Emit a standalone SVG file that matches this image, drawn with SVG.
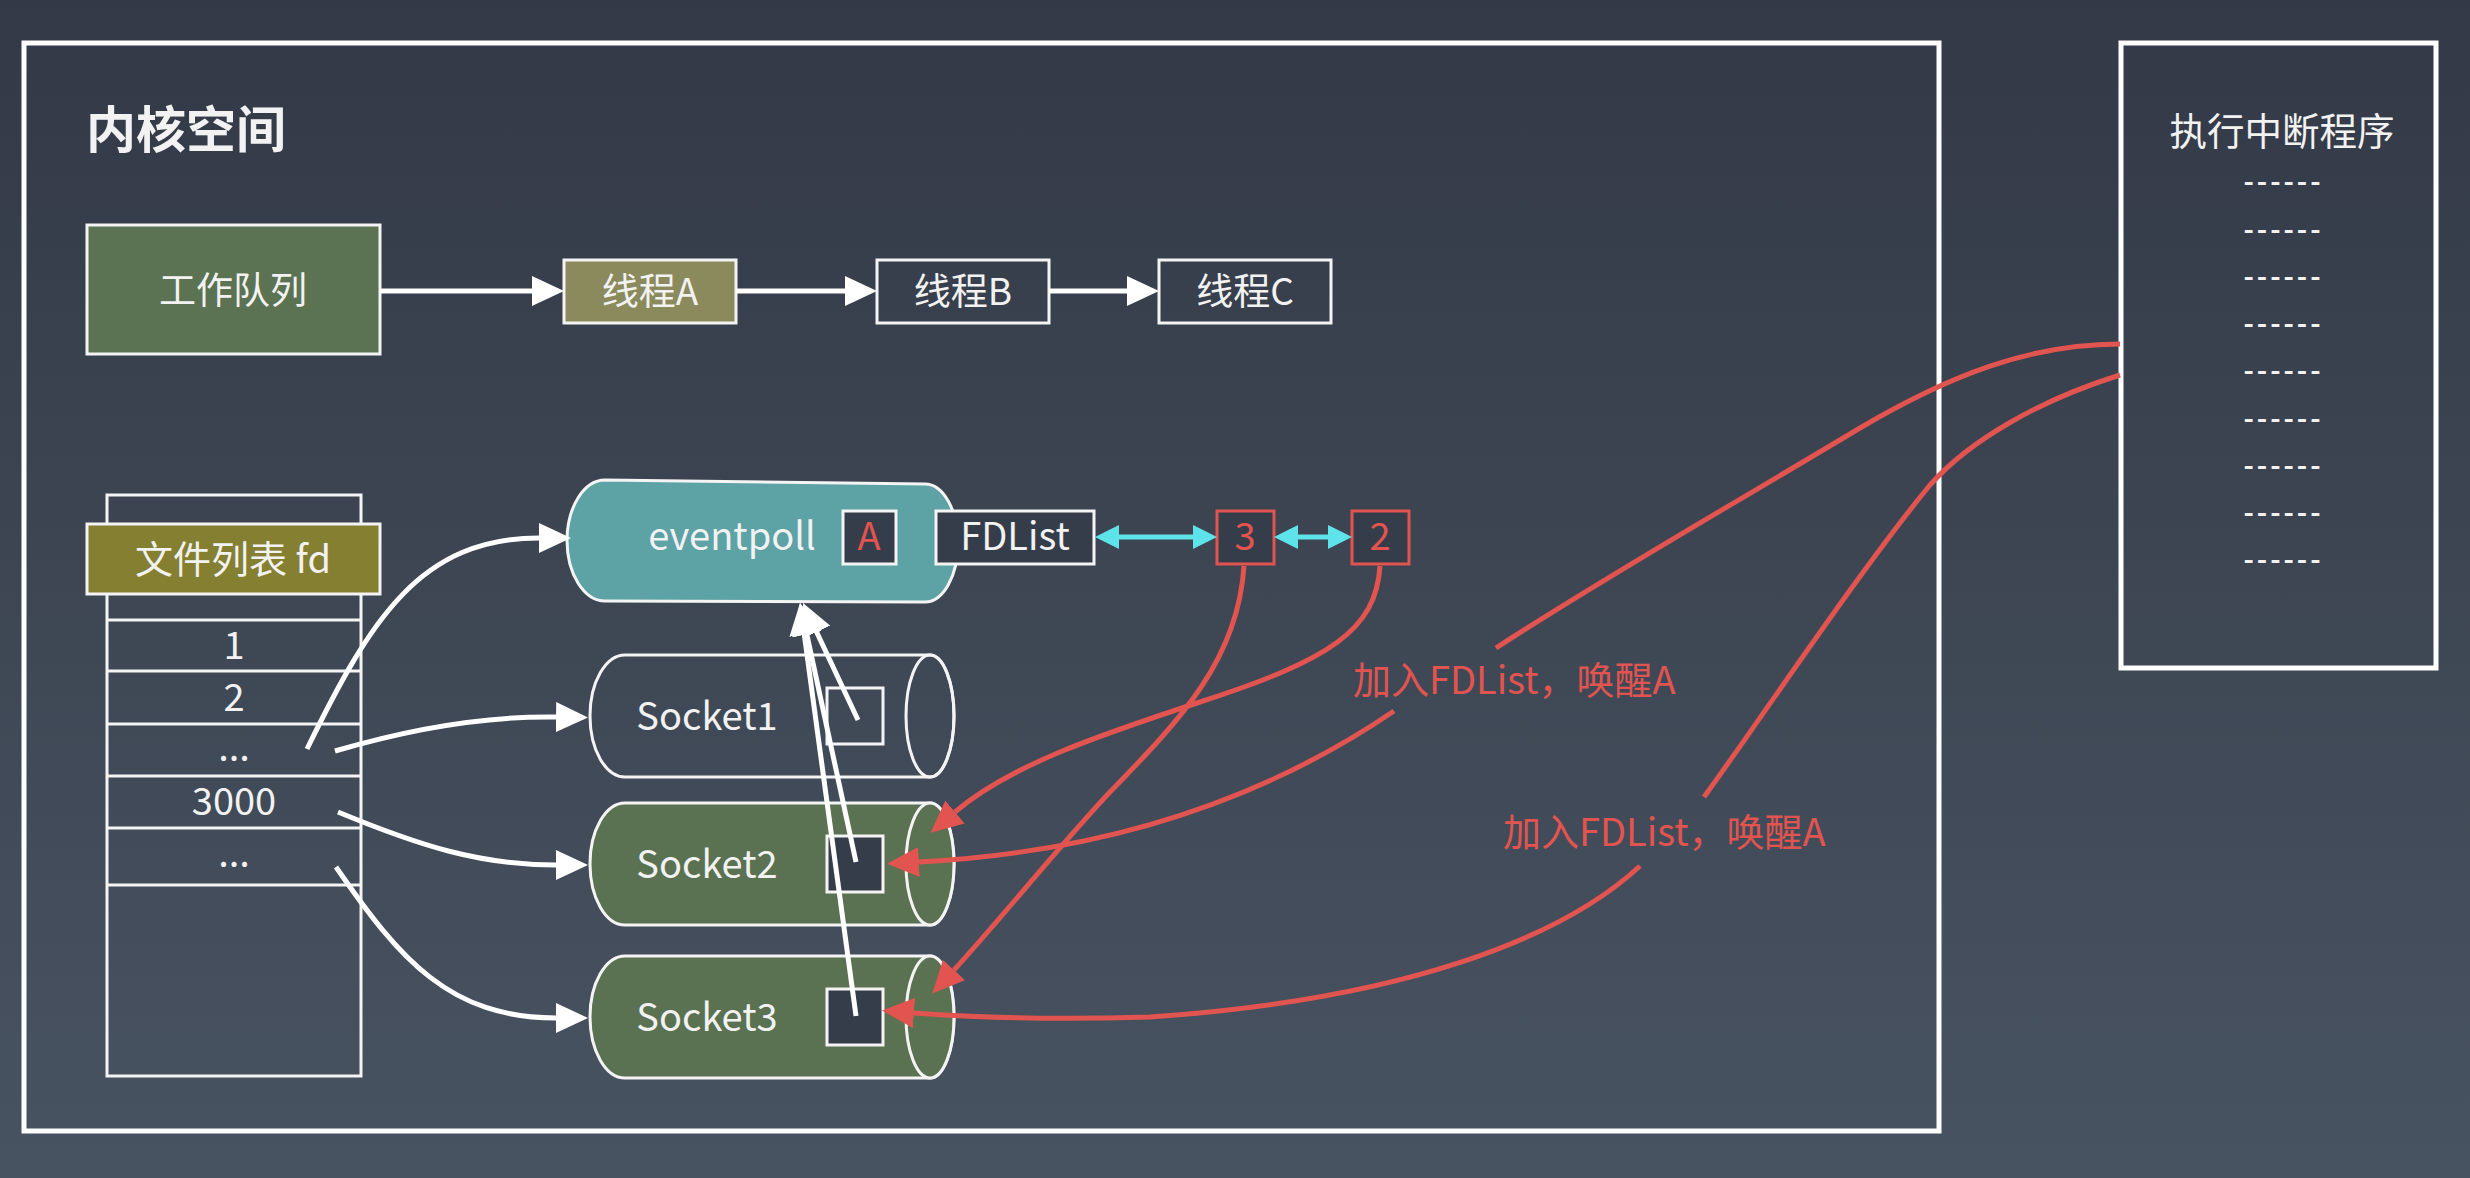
<svg xmlns="http://www.w3.org/2000/svg" width="2470" height="1178" viewBox="0 0 2470 1178">
<defs>
<linearGradient id="bg" x1="0" y1="0" x2="0" y2="1178" gradientUnits="userSpaceOnUse">
<stop offset="0" stop-color="#333946"/>
<stop offset="1" stop-color="#485361"/>
</linearGradient>
<marker id="aw" markerUnits="userSpaceOnUse" markerWidth="32" markerHeight="30" viewBox="0 0 32 30" refX="0" refY="15" orient="auto"><path d="M0,0 L32,15 L0,30 Z" fill="#ffffff"/></marker>
<marker id="ar" markerUnits="userSpaceOnUse" markerWidth="32" markerHeight="30" viewBox="0 0 32 30" refX="0" refY="15" orient="auto"><path d="M0,0 L32,15 L0,30 Z" fill="#e2544f"/></marker>
<marker id="ac" markerUnits="userSpaceOnUse" markerWidth="24" markerHeight="24" viewBox="0 0 24 24" refX="0" refY="12" orient="auto-start-reverse"><path d="M0,0 L24,12 L0,24 Z" fill="#5fe3ea"/></marker>
<style>
text{font-family:"Noto Sans CJK SC","Noto Sans",sans-serif;fill:#f2f2f2;}
.lbl{font-size:37px;text-anchor:middle;}
.lat{font-size:38px;text-anchor:middle;}
.red{fill:#e2544f;}
.box{stroke:#f4f4f4;stroke-width:3;}
.wl{fill:none;stroke:#ffffff;stroke-width:5;}
.rl{fill:none;stroke:#e2544f;stroke-width:5;}
.cl{fill:none;stroke:#5fe3ea;stroke-width:5;}
.dash{font-size:28px;text-anchor:middle;font-weight:bold;}
</style>
</defs>
<rect x="0" y="0" width="2470" height="1178" fill="url(#bg)"/>

<g id="kernel-frame">
<rect x="24" y="43" width="1915" height="1088" fill="none" stroke="#ffffff" stroke-width="5"/>
<text x="86" y="148" style="font-size:50px;font-weight:bold;">内核空间</text>
</g>

<g id="work-queue"><rect class="box" x="87" y="225" width="293" height="129" fill="#5b7352"/><text class="lbl" x="233" y="304">工作队列</text></g>
<g id="thread-a"><rect class="box" x="564" y="260" width="172" height="63" fill="#8a8a5d"/><text class="lbl" x="650" y="305">线程A</text></g>
<g id="thread-b"><rect class="box" x="877" y="260" width="172" height="63" fill="none"/><text class="lbl" x="963" y="305">线程B</text></g>
<g id="thread-c"><rect class="box" x="1159" y="260" width="172" height="63" fill="none"/><text class="lbl" x="1245" y="305">线程C</text></g>

<g id="fd-list">
<rect class="box" x="107" y="495" width="254" height="581" fill="none"/>
<line class="box" x1="107" y1="620" x2="361" y2="620"/>
<line class="box" x1="107" y1="671" x2="361" y2="671"/>
<line class="box" x1="107" y1="724" x2="361" y2="724"/>
<line class="box" x1="107" y1="776" x2="361" y2="776"/>
<line class="box" x1="107" y1="828" x2="361" y2="828"/>
<line class="box" x1="107" y1="885" x2="361" y2="885"/>
<rect class="box" x="87" y="524" width="293" height="70" fill="#857f31"/>
<text class="lat" x="233" y="573">文件列表 fd</text>
<text class="lat" x="234" y="659">1</text>
<text class="lat" x="234" y="711">2</text>
<text class="lat" x="234" y="761">...</text>
<text class="lat" x="234" y="815">3000</text>
<text class="lat" x="234" y="867">...</text>
</g>

<g id="eventpoll">
<path class="box" d="M605,480 L925,484 A33,59 0 0 1 925,602 L605,601 A38,60.5 0 0 1 605,480 Z" fill="#5da2a4"/>
<text class="lat" x="732" y="550">eventpoll</text>
<rect class="box" x="843" y="511" width="53" height="53" fill="#363d4a"/>
<text class="lat red" x="869" y="550">A</text>
</g>
<g id="fdlist"><rect class="box" x="936" y="511" width="158" height="53" fill="#363d4a"/><text class="lat" x="1015" y="550">FDList</text></g>
<g id="fd3"><rect x="1217" y="511" width="57" height="53" fill="#363d4a" stroke="#e2544f" stroke-width="3"/><text class="lat red" x="1245" y="550">3</text></g>
<g id="fd2"><rect x="1352" y="511" width="57" height="53" fill="#363d4a" stroke="#e2544f" stroke-width="3"/><text class="lat red" x="1380" y="550">2</text></g>

<g id="socket1">
<path class="box" d="M625,655 L930,655 A24,61 0 0 1 930,777 L625,777 A35,61 0 0 1 625,655 Z" fill="none"/>
<ellipse class="box" cx="930" cy="716" rx="24" ry="61" fill="none"/>
<text class="lat" x="707" y="730">Socket1</text>
<rect class="box" x="827" y="688" width="56" height="56" fill="none"/>
</g>
<g id="socket2">
<path class="box" d="M625,803 L930,803 A24,61 0 0 1 930,925 L625,925 A35,61 0 0 1 625,803 Z" fill="#5a7152"/>
<ellipse class="box" cx="930" cy="864" rx="24" ry="61" fill="#5a7152"/>
<text class="lat" x="707" y="878">Socket2</text>
<rect class="box" x="827" y="836" width="56" height="56" fill="#363d4a"/>
</g>
<g id="socket3">
<path class="box" d="M625,956 L930,956 A24,61 0 0 1 930,1078 L625,1078 A35,61 0 0 1 625,956 Z" fill="#5a7152"/>
<ellipse class="box" cx="930" cy="1017" rx="24" ry="61" fill="#5a7152"/>
<text class="lat" x="707" y="1031">Socket3</text>
<rect class="box" x="827" y="989" width="56" height="56" fill="#363d4a"/>
</g>

<g id="interrupt">
<rect x="2121" y="43" width="315" height="625" fill="none" stroke="#ffffff" stroke-width="5"/>
<text x="2282" y="145" style="font-size:37.5px;text-anchor:middle">执行中断程序</text>
<text class="dash" x="2282" y="192" textLength="77">------</text>
<text class="dash" x="2282" y="240" textLength="77">------</text>
<text class="dash" x="2282" y="287" textLength="77">------</text>
<text class="dash" x="2282" y="334" textLength="77">------</text>
<text class="dash" x="2282" y="381" textLength="77">------</text>
<text class="dash" x="2282" y="429" textLength="77">------</text>
<text class="dash" x="2282" y="476" textLength="77">------</text>
<text class="dash" x="2282" y="523" textLength="77">------</text>
<text class="dash" x="2282" y="570" textLength="77">------</text>
</g>

<g id="connectors">
<line class="wl" x1="380" y1="291" x2="532" y2="291" marker-end="url(#aw)"/>
<line class="wl" x1="736" y1="291" x2="845" y2="291" marker-end="url(#aw)"/>
<line class="wl" x1="1049" y1="291" x2="1127" y2="291" marker-end="url(#aw)"/>

<path class="wl" d="M307,749 C370,620 420,538 539,538" marker-end="url(#aw)"/>
<path class="wl" d="M335,751 C420,726 490,716 556,717" marker-end="url(#aw)"/>
<path class="wl" d="M338,812 C420,846 480,865 556,865" marker-end="url(#aw)"/>
<path class="wl" d="M336,867 C400,960 450,1018 556,1018" marker-end="url(#aw)"/>

<line class="wl" x1="858" y1="720" x2="816.6" y2="632" marker-end="url(#aw)"/>
<line class="wl" x1="856" y1="862" x2="806.8" y2="634.3" marker-end="url(#aw)"/>
<line class="wl" x1="856" y1="1016" x2="804.3" y2="634.7" marker-end="url(#aw)"/>

<line class="cl" x1="1119" y1="537" x2="1193" y2="537" marker-start="url(#ac)" marker-end="url(#ac)"/>
<line class="cl" x1="1298" y1="537" x2="1328" y2="537" marker-start="url(#ac)" marker-end="url(#ac)"/>

<path class="rl" d="M1244,566 C1238,660 1180,720 1110,792 C1060,845 1000,920 954,970" marker-end="url(#ar)"/>
<path class="rl" d="M1380,566 C1376,630 1330,660 1200,702 C1100,735 1010,765 955,812" marker-end="url(#ar)"/>
<path class="rl" d="M2120,344 C2030,344 1950,375 1860,428 C1740,500 1600,580 1496,648"/>
<path class="rl" d="M1394,711 C1300,775 1150,850 919,862" marker-end="url(#ar)"/>
<path class="rl" d="M2120,375 C2040,400 1970,440 1930,485 C1860,570 1760,720 1704,797"/>
<path class="rl" d="M1640,866 C1560,940 1400,1000 1150,1017 C1050,1020 980,1018 914,1013" marker-end="url(#ar)"/>
<text class="red" x="1353" y="694" style="font-size:38px">加入FDList，唤醒A</text>
<text class="red" x="1503" y="846" style="font-size:38px">加入FDList，唤醒A</text>
</g>
</svg>
